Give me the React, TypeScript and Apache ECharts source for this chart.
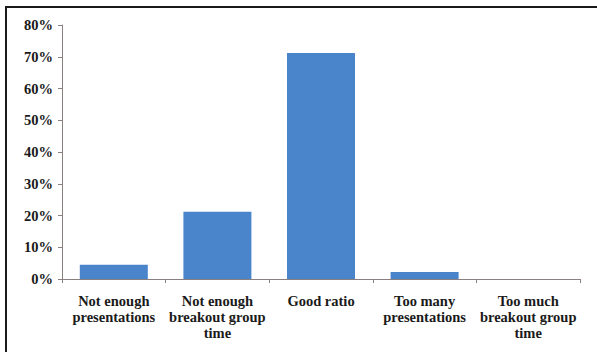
import React, { useEffect, useRef } from "react";
import * as echarts from "echarts";

const categories = [
  "Not enough\npresentations",
  "Not enough\nbreakout group\ntime",
  "Good ratio",
  "Too many\npresentations",
  "Too much\nbreakout group\ntime",
];
const values = [4.5, 21.2, 71.2, 2.2, 0];
const yTicks = [0, 10, 20, 30, 40, 50, 60, 70, 80];

export default function App() {
  const ref = useRef<HTMLDivElement>(null);
  useEffect(() => {
    document.body.style.margin = "0";
    const chart = echarts.init(ref.current!, null, { renderer: "svg" });
    chart.setOption({
      animation: false,
      backgroundColor: "#ffffff",
      grid: { left: 62, right: 17, top: 25, bottom: 73 },
      graphic: [
        { type: "line", shape: { x1: 6, y1: 7, x2: 6, y2: 352 }, style: { stroke: "#1a1a1a", lineWidth: 2 } },
        { type: "line", shape: { x1: 5, y1: 7, x2: 597, y2: 7 }, style: { stroke: "#1a1a1a", lineWidth: 2 } },
      ],
      xAxis: {
        type: "category",
        data: categories,
        axisLine: { lineStyle: { color: "#8a7f7f", width: 1 } },
        axisTick: { show: true, length: 4, alignWithLabel: false, lineStyle: { color: "#8a7f7f" } },
        axisLabel: {
          interval: 0,
          margin: 14,
          color: "#1a1a1a",
          fontFamily: "Liberation Serif",
          fontWeight: "bold",
          fontSize: 14.5,
          lineHeight: 16,
        },
      },
      yAxis: {
        type: "value",
        min: 0,
        max: 80,
        interval: 10,
        splitLine: { show: false },
        axisLine: { show: true, lineStyle: { color: "#8a7f7f", width: 1 } },
        axisTick: { show: true, length: 4, lineStyle: { color: "#8a7f7f" } },
        axisLabel: {
          formatter: (v: number) => (yTicks.includes(v) ? v + "%" : ""),
          margin: 9,
          color: "#1a1a1a",
          fontFamily: "Liberation Serif",
          fontWeight: "bold",
          fontSize: 14.5,
        },
      },
      series: [
        {
          type: "bar",
          data: values,
          barWidth: 68,
          itemStyle: { color: "#4a85cb" },
        },
      ],
    });
    return () => chart.dispose();
  }, []);
  return <div ref={ref} style={{ position: "absolute", left: 0, top: 0, width: 597, height: 352 }} />;
}
